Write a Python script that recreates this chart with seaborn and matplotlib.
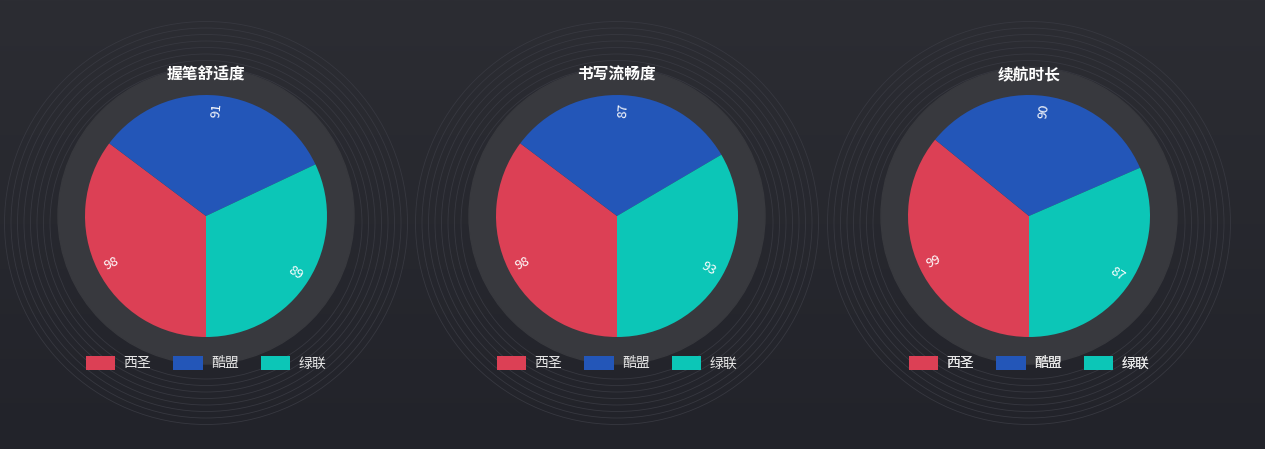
import numpy as np
import matplotlib
matplotlib.use("Agg")
import matplotlib.pyplot as plt
from matplotlib.patches import Circle, Patch
import seaborn as sns

# data
titles = ["握笔舒适度", "书写流畅度", "续航时长"]
brands = ["西圣", "酷盟", "绿联"]
xisheng = [98, 98, 99]
kumeng = [91, 87, 90]
lvlian = [89, 93, 87]

sns.set_theme(style="dark")
plt.rcParams["font.family"] = ["Noto Sans CJK SC", "DejaVu Sans"]
palette = sns.color_palette(["#dc4055", "#2356b8", "#0cc6b7"])

W, H = 1265, 449
fig = plt.figure(figsize=(W / 100, H / 100), dpi=100)
ax = fig.add_axes([0, 0, 1, 1])

# background gradient (darker at bottom)
grad = np.linspace(0, 1, 256).reshape(-1, 1)
top = np.array([0x2c, 0x2d, 0x33]) / 255
bot = np.array([0x22, 0x23, 0x2a]) / 255
img = top + (bot - top) * grad[..., None]
ax.imshow(img, extent=(0, W, 0, H), aspect="auto", zorder=0)

centers = [206, 617, 1029]
cy = H - 216
for i, title in enumerate(titles):
    cx = centers[i]
    vals = [xisheng[i], kumeng[i], lvlian[i]]

    # thin background rings
    for r in np.arange(156, 206, 6.5):
        ax.add_patch(Circle((cx, H - 223), r, fill=False, lw=0.6,
                            ec="#373840", zorder=1))
    # grey ring
    ax.add_patch(Circle((cx, cy), 148, color="#38393e", zorder=2))

    wedges, _ = ax.pie(vals, colors=palette, startangle=-90, counterclock=False,
                       radius=121, center=(cx, cy), frame=True,
                       wedgeprops=dict(linewidth=0))
    for w in wedges:
        w.set_zorder(3)

    # radial value labels
    total = sum(vals)
    start = 0
    for v in vals:
        mid = start + v / total * 360 / 2
        start += v / total * 360
        ang = -90 - mid
        rad = np.deg2rad(ang)
        lx = cx + 106 * np.cos(rad)
        ly = cy + 106 * np.sin(rad)
        rot = (ang + 180) % 360 - 180
        if rot < -90:
            rot += 180
        elif rot > 90:
            rot -= 180
        ax.text(lx, ly, str(v), ha="center", va="center", rotation=rot,
                rotation_mode="anchor", color="white", fontsize=9.5, zorder=4)

    ax.text(cx, H - 75, title, ha="center", va="center", color="white",
            fontsize=11.3, fontweight="bold", zorder=4)

    handles = [Patch(facecolor=palette[k], edgecolor="none", label=brands[k])
               for k in range(3)]
    leg = ax.legend(handles=handles, loc="center", bbox_to_anchor=(cx, H - 363),
                    bbox_transform=ax.transData, ncol=3, frameon=False,
                    fontsize=10, labelcolor="#e8e8e8", handlelength=2.1,
                    handleheight=1.2, handletextpad=0.6, columnspacing=1.6,
                    borderpad=0, borderaxespad=0)
    leg.set_zorder(5)
    ax.add_artist(leg)

ax.set_xlim(0, W)
ax.set_ylim(0, H)
ax.set_aspect("auto")
ax.axis("off")

fig.savefig("out.png", dpi=100, facecolor="#24252c")
